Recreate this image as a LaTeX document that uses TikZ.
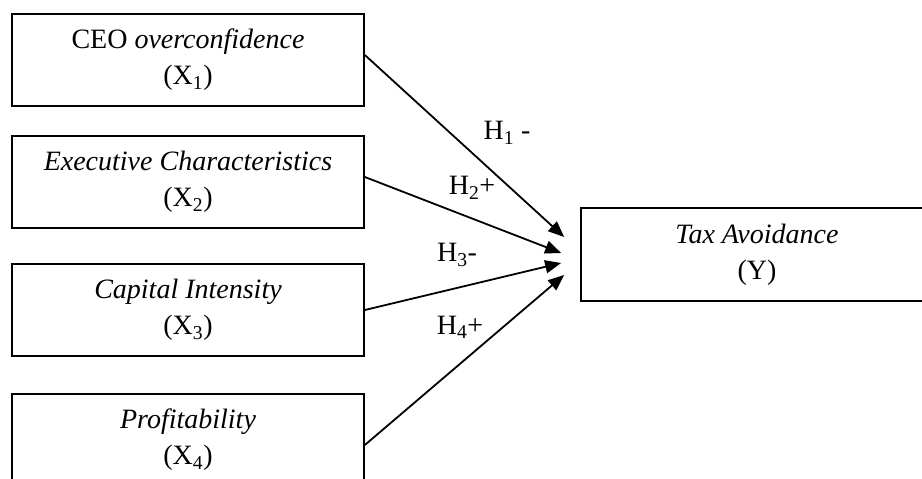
\documentclass[tikz,border=0pt]{standalone}
\usepackage{fontspec}
\setmainfont{Liberation Serif}
\usetikzlibrary{arrows.meta,calc}
\begin{document}
\begin{tikzpicture}[x=1pt,y=-1pt,
  boxline/.style={draw=black,line width=1.7pt},
  varbox/.style={boxline,minimum height=92pt,inner sep=0pt,
    align=center,font=\fontsize{28}{36}\selectfont},
  leftbox/.style={varbox,minimum width=352pt},
  hyp/.style={->,line width=1.8pt,>={Triangle[length=16pt,width=13pt]}},
  hlabel/.style={font=\fontsize{28}{30}\selectfont,inner sep=0pt}]
\useasboundingbox (0,0) rectangle (922,479);
\clip (0,0) rectangle (922,479);
\node[leftbox] (b1) at (188,60) {CEO \textit{overconfidence}\\(X\textsubscript{1})};
\node[leftbox] (b2) at (188,182) {\textit{Executive Characteristics}\\(X\textsubscript{2})};
\node[leftbox] (b3) at (188,310) {\textit{Capital Intensity}\\(X\textsubscript{3})};
\node[leftbox] (b4) at (188,440) {\textit{Profitability}\\(X\textsubscript{4})};
\node[varbox,draw=none,minimum width=350pt,minimum height=91pt] (tax) at (757,254.5) {\textit{Tax Avoidance}\\(Y)};
\draw[boxline] ($(tax.north east)+(10,0)$) -- (tax.north west) -- (tax.south west) -- ($(tax.south east)+(10,0)$);
\coordinate (t1) at ($(tax.west)+(-17,-17.5)$);
\coordinate (t2) at ($(tax.west)+(-20,-1.5)$);
\coordinate (t3) at ($(tax.west)+(-20,8.5)$);
\coordinate (t4) at ($(tax.west)+(-17,20.5)$);
\draw[hyp] ([yshift=5pt]b1.east) -- (t1);
\draw[hyp] ([yshift=5pt]b2.east) -- (t2);
\draw[hyp] (b3.east) -- (t3);
\draw[hyp] ([yshift=-5pt]b4.east) -- (t4);
\node[hlabel] (h1) at (507,133) {H\textsubscript{1} -};
\node[hlabel] (h2) at (472,188) {H\textsubscript{2}+};
\node[hlabel] (h3) at (457,255) {H\textsubscript{3}-};
\node[hlabel] (h4) at (460,327) {H\textsubscript{4}+};
\end{tikzpicture}
\end{document}
